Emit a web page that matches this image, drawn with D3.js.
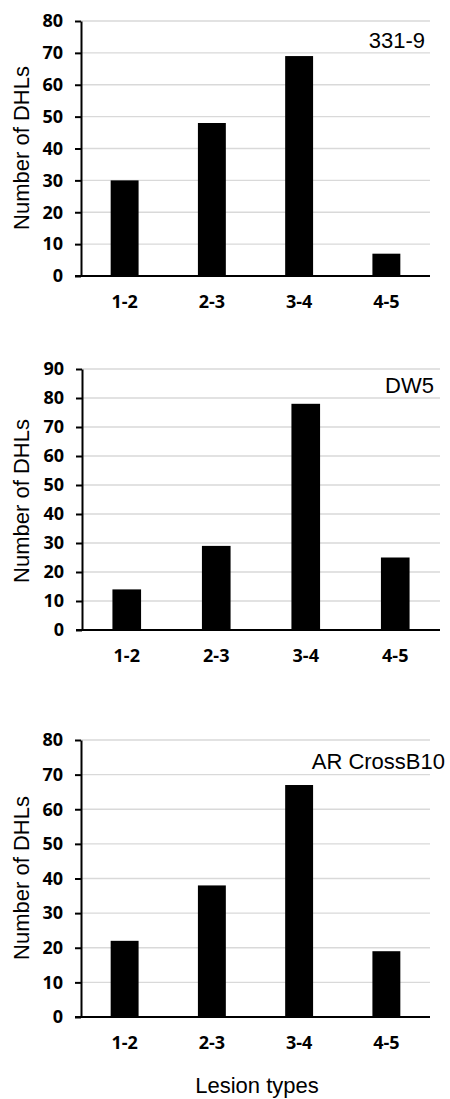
<!DOCTYPE html>
<html>
<head>
<meta charset="utf-8">
<script src="https://cdn.jsdelivr.net/npm/d3@7"></script>
<style>
  body { margin: 0; background: #fff; }
  svg { display: block; }
</style>
</head>
<body>
<script>
// data
var categories = ["1-2", "2-3", "3-4", "4-5"];
var panelNames = ["331-9", "DW5", "AR CrossB10"];
var values331 = [30, 48, 69, 7];
var valuesDW5 = [14, 29, 78, 25];
var valuesAR = [22, 38, 67, 19];
var yMax = [80, 90, 80];
var yTitle = "Number of DHLs";
var xTitle = "Lesion types";

// layout for each panel (pixels)
var panels = [
  { values: values331, left: 81, right: 430, top: 21, bottom: 276, labelX: 425, labelY: 48, titleY: 148 },
  { values: valuesDW5, left: 82, right: 440, top: 369, bottom: 630, labelX: 434, labelY: 393, titleY: 501 },
  { values: valuesAR, left: 81, right: 430, top: 740, bottom: 1017, labelX: 445, labelY: 769, titleY: 878 }
];

var tickFont = "'Open Sans', Lato, sans-serif";

var svg = d3.select("body").append("svg")
  .attr("width", 450)
  .attr("height", 1099);

panels.forEach(function (p, k) {
  var x = d3.scaleBand()
    .domain(categories)
    .range([p.left, p.right])
    .padding(0);

  var y = d3.scaleLinear()
    .domain([0, yMax[k]])
    .range([p.bottom, p.top]);

  var g = svg.append("g");

  // gridlines
  g.selectAll("line.grid")
    .data(y.ticks(yMax[k] / 10).filter(function (d) { return d > 0; }))
    .enter()
    .append("line")
    .attr("class", "grid")
    .attr("x1", p.left)
    .attr("x2", p.right)
    .attr("y1", function (d) { return y(d); })
    .attr("y2", function (d) { return y(d); })
    .style("stroke", "#d9d9d9")
    .style("stroke-width", 1.3);

  // bars
  var bw = x.bandwidth() * 0.32;
  g.selectAll("rect")
    .data(p.values)
    .enter()
    .append("rect")
    .attr("x", function (d, i) { return x(categories[i]) + x.bandwidth() / 2 - bw / 2; })
    .attr("y", function (d) { return y(d); })
    .attr("width", bw)
    .attr("height", function (d) { return p.bottom - y(d); })
    .style("fill", "#000");

  // y axis
  var yAxis = g.append("g")
    .attr("transform", "translate(" + p.left + ",0)")
    .call(d3.axisLeft(y).ticks(yMax[k] / 10).tickSize(6).tickPadding(12).tickSizeOuter(0));
  yAxis.select(".domain").style("stroke", "#000").style("stroke-width", 2);
  yAxis.selectAll(".tick line").style("stroke", "#000").style("stroke-width", 2);
  yAxis.selectAll(".tick text")
    .style("font-family", tickFont)
    .style("font-weight", "bold")
    .style("font-size", "18px")
    .style("fill", "#000");

  // x axis
  var xAxis = g.append("g")
    .attr("transform", "translate(0," + p.bottom + ")")
    .call(d3.axisBottom(x).tickSize(0).tickPadding(19).tickSizeOuter(0));
  xAxis.select(".domain").style("stroke", "#000").style("stroke-width", 2)
    .attr("d", "M" + (p.left - 6) + ",0H" + p.right);
  xAxis.selectAll(".tick text")
    .style("font-family", tickFont)
    .style("font-weight", "bold")
    .style("font-size", "18px")
    .style("fill", "#000");

  // panel label
  g.append("text")
    .attr("x", p.labelX)
    .attr("y", p.labelY)
    .attr("text-anchor", "end")
    .style("font-family", "'Liberation Sans', Arial, sans-serif")
    .style("font-size", "22px")
    .style("fill", "#000")
    .text(panelNames[k]);

  // y title
  g.append("text")
    .attr("transform", "translate(29," + p.titleY + ") rotate(-90)")
    .attr("text-anchor", "middle")
    .style("font-family", "'Liberation Sans', Arial, sans-serif")
    .style("font-size", "22px")
    .style("fill", "#000")
    .text(yTitle);
});

svg.append("text")
  .attr("x", 257)
  .attr("y", 1093)
  .attr("text-anchor", "middle")
  .style("font-family", "'Liberation Sans', Arial, sans-serif")
  .style("font-size", "22px")
  .style("fill", "#000")
  .text(xTitle);
</script>
</body>
</html>
